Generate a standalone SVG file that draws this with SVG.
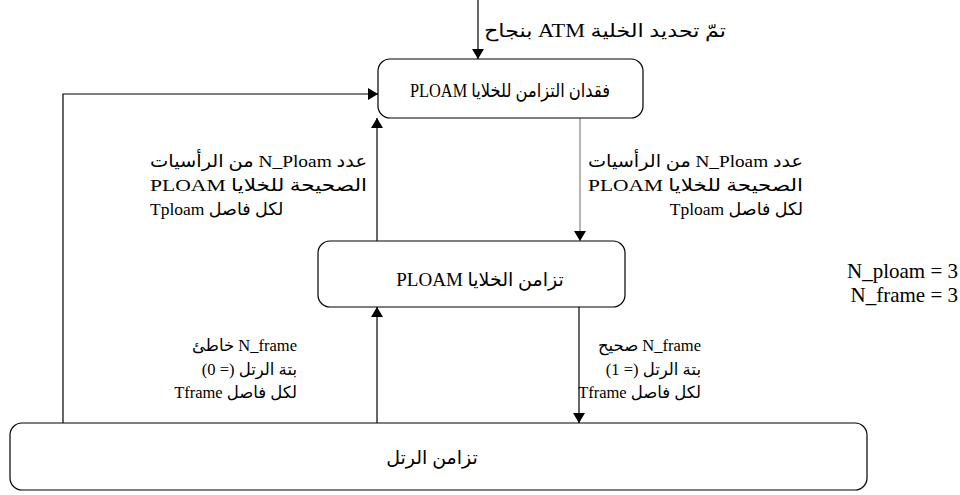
<svg xmlns="http://www.w3.org/2000/svg" width="960" height="495" viewBox="0 0 960 495">
  <style>
    .box { fill: #ffffff; stroke: #000000; stroke-width: 1.2; }
    .conn { fill: none; stroke: #000000; stroke-width: 1.2; }
    .thin { fill: none; stroke: #444444; stroke-width: 0.8; }
    .txt { fill: #000000; }
    .name { font-size: 19px; }
    .up { font-size: 17.5px; }
    .low { font-size: 16.5px; }
  </style>
  <defs>
    <marker id="arrow" viewBox="0 0 10 12" refX="10" refY="6" markerWidth="10" markerHeight="12" markerUnits="userSpaceOnUse" orient="auto">
      <path d="M0,0 L10,6 L0,12 Z" fill="#000000"/>
    </marker>
  </defs>

  <rect width="960" height="495" fill="#ffffff"/>

  <!-- connectors -->
  <g id="connectors">
    <line class="conn" x1="478" y1="0" x2="478" y2="59" marker-end="url(#arrow)"/>
    <polyline class="conn" points="63,423 63,94 378,94" marker-end="url(#arrow)"/>
    <line class="conn" x1="377" y1="241" x2="377" y2="118" marker-end="url(#arrow)"/>
    <line class="thin" x1="580" y1="118" x2="580" y2="241" marker-end="url(#arrow)"/>
    <line class="conn" x1="377" y1="423" x2="377" y2="307" marker-end="url(#arrow)"/>
    <line class="conn" x1="579" y1="307" x2="579" y2="423" marker-end="url(#arrow)"/>
  </g>

  <g font-family="Liberation Serif, Times New Roman, DejaVu Serif, DejaVu Sans, serif" class="txt">
    <!-- states -->
    <g id="state-hunt">
      <rect class="box" x="378" y="59" width="265" height="59" rx="12"/>
      <text class="name" x="510" y="97" text-anchor="middle" direction="rtl" textLength="200" lengthAdjust="spacingAndGlyphs">فقدان التزامن للخلايا PLOAM</text>
    </g>
    <g id="state-presync">
      <rect class="box" x="318" y="241" width="307" height="66" rx="12"/>
      <text class="name" x="480" y="286" text-anchor="middle" direction="rtl">تزامن الخلايا PLOAM</text>
    </g>
    <g id="state-sync">
      <rect class="box" x="10" y="423" width="857" height="67" rx="12"/>
      <text class="name" x="432" y="464" text-anchor="middle" direction="rtl">تزامن الرتل</text>
    </g>

    <!-- transition labels -->
    <g id="labels">
      <text x="605" y="37" font-size="18" text-anchor="middle" direction="rtl" textLength="242" lengthAdjust="spacingAndGlyphs">تمّ تحديد الخلية ATM بنجاح</text>

      <g class="up" direction="rtl">
        <text x="150" y="167" text-anchor="end" textLength="217" lengthAdjust="spacingAndGlyphs">عدد N_Ploam من الرأسيات</text>
        <text x="150" y="191" text-anchor="end" textLength="217" lengthAdjust="spacingAndGlyphs">الصحيحة للخلايا PLOAM</text>
        <text x="150" y="215" text-anchor="end">لكل فاصل Tploam</text>

        <text x="803" y="167" text-anchor="start" textLength="215" lengthAdjust="spacingAndGlyphs">عدد N_Ploam من الرأسيات</text>
        <text x="803" y="191" text-anchor="start" textLength="215" lengthAdjust="spacingAndGlyphs">الصحيحة للخلايا PLOAM</text>
        <text x="803" y="215" text-anchor="start">لكل فاصل Tploam</text>
      </g>

      <g class="low" direction="rtl">
        <text x="297" y="351" text-anchor="start">N_frame خاطئ</text>
        <text x="297" y="375" text-anchor="start">بتة الرتل (= 0)</text>
        <text x="297" y="398" text-anchor="start">لكل فاصل Tframe</text>

        <text x="701" y="351" text-anchor="start">N_frame صحيح</text>
        <text x="701" y="375" text-anchor="start">بتة الرتل (= 1)</text>
        <text x="701" y="398" text-anchor="start">لكل فاصل Tframe</text>
      </g>

      <text x="958" y="278" font-size="21" text-anchor="end">N_ploam = 3</text>
      <text x="958" y="302" font-size="21" text-anchor="end">N_frame = 3</text>
    </g>
  </g>
</svg>
